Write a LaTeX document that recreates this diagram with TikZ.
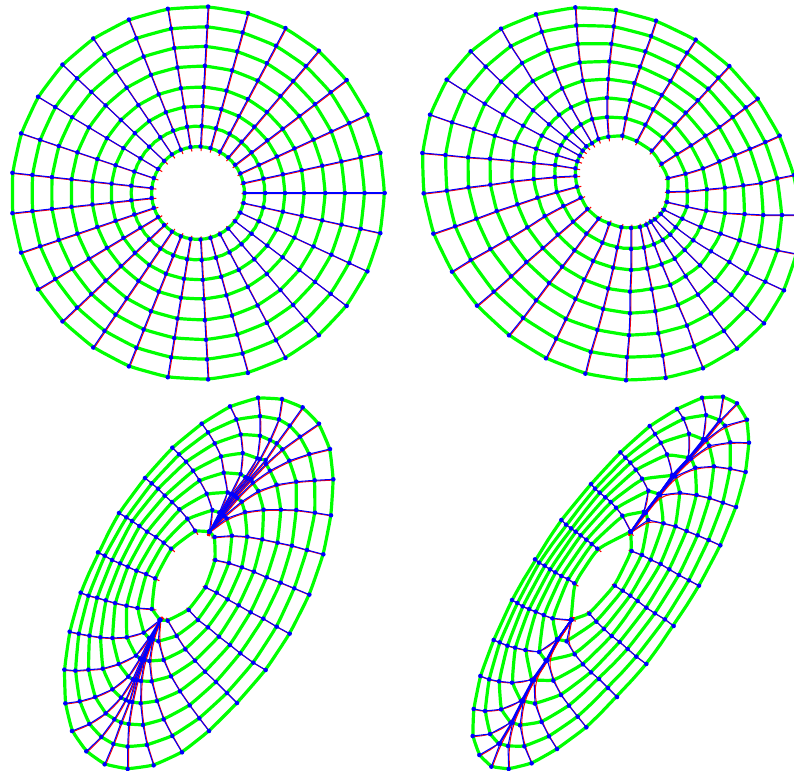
\documentclass[tikz,border=0pt]{standalone}
\usetikzlibrary{calc}
\definecolor{meshgreen}{RGB}{0,255,0}
\definecolor{meshblue}{RGB}{0,0,255}
\definecolor{meshred}{RGB}{255,0,0}
\tikzset{
  ringline/.style={draw=meshgreen,line width=2.4pt,line join=round},
  spokeline/.style={draw=meshblue,line width=0.8pt,line join=round},
  curveline/.style={draw=meshred,line width=0.8pt,line join=round,transform canvas={shift={(0.6pt,-0.5pt)}}},
  meshdot/.style={fill=meshblue}
}
\newcommand\Sp[5]{\foreach \X/\Y [count=\j] in {#5} {\coordinate (#1-#2-\j) at ({#3+\X/3},{#4+\Y/3});}}
\def\rpairs{1/2,2/3,3/4,4/5,5/6,6/7,7/8,8/9,9/10,10/11,11/12,12/13,13/14,14/15,15/16,16/17,17/18,18/19,19/20,20/21,21/22,22/23,23/24,24/25,25/26,26/27,27/28,28/29,29/1}
\newcommand\DrawMesh[1]{%
  \foreach \j in {1,...,8}{%
    \draw[ringline] ($(#1-29-\j)!.5!(#1-1-\j)$) foreach \k/\n in \rpairs { .. controls (#1-\k-\j) and (#1-\k-\j) .. ($(#1-\k-\j)!.5!(#1-\n-\j)$) } -- cycle;
  }
  \foreach \k in {1,...,29}{%
    \draw[curveline] ($(#1-\k-1)!-3pt!(#1-\k-2)$) -- ($(#1-\k-1)!.5!(#1-\k-2)$)
      foreach \p/\a/\b in {1/2/3,2/3/4,3/4/5,4/5/6,5/6/7,6/7/8} { .. controls ($(#1-\k-\p)!.833!(#1-\k-\a)$) and ($(#1-\k-\b)!.833!(#1-\k-\a)$) .. ($(#1-\k-\a)!.5!(#1-\k-\b)$) } -- (#1-\k-8);
  }
  \foreach \k in {1,...,29}{%
    \draw[spokeline] (#1-\k-1) foreach \j in {2,...,8} { -- (#1-\k-\j) };
  }
  \foreach \k in {1,...,29}{\foreach \j in {1,...,8}{\fill[meshdot] (#1-\k-\j) circle[radius=1.7pt];}}
}
\begin{document}
\begin{tikzpicture}[x=0.75pt,y=-0.75pt]
\useasboundingbox (0,0) rectangle (794,771);
\clip (0,0) rectangle (794,771);
% ---------- panel A
\foreach \k in {1,...,29}{\foreach \r [count=\j] in {46.7,67.3,87,106.3,127.3,147,166.7,186.7}{%
  \coordinate (A-\k-\j) at ({198+\r*cos(12.4138*(\k-1))},{193+\r*sin(12.4138*(\k-1))});}}
% ---------- panel B
\Sp{B}{1}{604}{0}{192/534,245/521,297/505,346/484,392/465,438/446,484/426,527/407}
\Sp{B}{2}{604}{0}{192/575,251/574,309/568,363/563,418/556,471/549,520/535,570/525}
\Sp{B}{3}{604}{190}{189/36,249/50,307/62,363/69,422/72,478/75,534/75,590/75}
\Sp{B}{4}{604}{190}{180/59,235/86,290/111,350/131,406/151,465/168,521/181,578/192}
\Sp{B}{5}{604}{190}{170/72,215/112,268/151,321/184,376/216,428/249,484/275,540/301}
\Sp{B}{6}{604}{190}{153/88,199/134,242/180,288/226,333/272,382/314,428/356,480/400}
\Sp{B}{7}{604}{190}{140/95,176/150,212/206,245/259,282/314,321/370,360/423,399/476}
\Sp{B}{8}{604}{190}{127/104,150/163,173/223,199/285,222/345,249/407,270/469,297/535}
\Sp{B}{9}{604}{190}{108/111,120/173,130/236,143/298,154/364,163/430,176/497,185/564}
\Sp{B}{10}{604}{190}{81/114,81/177,81/240,78/305,78/370,75/436,69/502,66/571}
\Sp{B}{11}{604}{190}{52/112,39/173,27/233,12/296,-3/357,-20/420,-40/486,-56/551}
\Sp{B}{12}{415}{190}{582/101,562/158,534/213,507/269,481/327,452/387,423/446,393/505}
\Sp{B}{13}{415}{190}{550/86,514/131,478/181,441/230,402/279,363/331,324/384,282/436}
\Sp{B}{14}{415}{190}{517/57,474/95,428/134,383/174,334/216,288/259,236/305,186/347}
\Sp{B}{15}{415}{190}{497/23,445/48,389/78,337/112,281/145,226/177,167/210,111/245}
\Sp{B}{16}{415}{190}{485/-10,425/6,367/23,307/43,245/63,184/86,120/109,55/131}
\Sp{B}{17}{415}{0}{481/528,419/531,356/537,291/544,226/554,160/562,95/572,26/580}
\Sp{B}{18}{415}{0}{481/505,420/495,356/489,291/482,225/476,159/472,91/465,22/459}
\Sp{B}{19}{415}{0}{487/484,425/465,363/446,300/426,239/407,177/387,111/367,45/344}
\Sp{B}{20}{415}{0}{494/467,438/436,380/407,324/377,265/344,209/311,150/274,95/239}
\Sp{B}{21}{415}{0}{503/452,452/413,402/373,354/331,304/288,258/245,212/200,167/154}
\Sp{B}{22}{415}{0}{514/439,471/394,432/344,393/296,353/243,321/189,287/138,258/86}
\Sp{B}{23}{415}{0}{531/430,497/373,468/322,441/265,419/210,399/151,380/95,363/43}
\Sp{B}{24}{415}{0}{550/417,531/357,517/301,503/242,494/187,488/131,484/76,481/22}
\Sp{B}{25}{604}{0}{13/410,9/351,9/293,12/237,16/184,22/131,29/79,36/30}
\Sp{B}{26}{604}{0}{55/407,65/354,78/301,91/249,108/200,124/154,141/108,156/62}
\Sp{B}{27}{604}{0}{98/423,124/374,147/328,173/285,199/243,222/200,249/158,275/119}
\Sp{B}{28}{604}{0}{143/452,176/413,212/374,245/338,281/301,313/266,343/233,376/198}
\Sp{B}{29}{604}{0}{173/491,218/462,261/436,304/407,346/381,386/351,425/322,461/296}
% ---------- panel C
\Sp{C}{1}{170}{390}{118/425,153/368,186/312,226/262,262/205,270/137,270/78,264/23}
\Sp{C}{2}{170}{390}{118/425,155/370,190/315,232/265,270/207,300/150,327/88,336/27}
\Sp{C}{3}{170}{390}{118/425,157/371,193/316,238/266,287/210,320/160,359/107,398/52}
\Sp{C}{4}{170}{390}{118/425,158/373,197/319,244/268,288/222,337/178,390/140,447/101}
\Sp{C}{5}{170}{390}{118/425,160/375,202/324,248/278,300/242,358/212,418/192,480/177}
\Sp{C}{6}{170}{390}{118/425,163/378,215/335,265/303,320/284,379/275,434/271,490/268}
\Sp{C}{7}{170}{390}{118/425,170/385,225/366,281/359,333/359,379/360,435/368,483/376}
\Sp{C}{8}{170}{390}{134/441,186/437,232/440,277/448,323/458,366/467,411/480,460/493}
\Sp{C}{9}{60}{420}{466/420,507/429,546/442,582/455,620/472,662/488,703/505,748/524}
\Sp{C}{10}{60}{420}{437/502,470/518,503/538,536/556,572/577,610/596,650/620,689/641}
\Sp{C}{11}{60}{420}{386/570,414/600,444/622,477/650,510/675,541/700,580/728,617/750}
\Sp{C}{12}{60}{420}{323/602,350/648,376/688,405/722,435/755,468/786,501/819,531/849}
\Sp{C}{13}{60}{600}{300/60,295/124,311/180,333/229,360/274,389/316,418/355,447/393}
\Sp{C}{14}{60}{600}{300/60,279/118,268/183,275/244,291/303,311/358,337/408,366/457}
\Sp{C}{15}{60}{600}{300/60,277/118,254/180,243/243,242/310,249/375,261/435,281/496}
\Sp{C}{16}{60}{600}{300/60,275/118,251/180,232/240,217/306,206/372,203/440,203/507}
\Sp{C}{17}{60}{600}{300/60,274/118,249/180,227/240,208/305,183/368,160/432,134/493}
\Sp{C}{18}{60}{600}{300/60,273/118,247/180,223/240,197/300,163/358,124/411,79/454}
\Sp{C}{19}{60}{600}{300/60,271/118,244/179,218/238,183/293,137/340,88/372,36/393}
\Sp{C}{20}{60}{600}{300/60,269/116,240/175,205/230,157/268,105/291,59/304,16/310}
\Sp{C}{21}{60}{600}{300/60,267/114,228/167,176/192,128/206,85/209,46/212,13/209}
\Sp{C}{22}{60}{600}{300/60,251/98,200/112,157/114,121/112,88/107,56/101,29/95}
\Sp{C}{23}{60}{420}{275/567,232/564,199/557,165/549,137/541,111/533,85/527,62/518}
\Sp{C}{24}{60}{420}{285/475,258/462,229/452,203/440,180/430,156/420,134/407,114/397}
\Sp{C}{25}{60}{420}{333/386,311/368,288/351,261/335,238/318,216/303,199/292,177/279}
\Sp{C}{26}{60}{420}{405/332,382/296,358/268,336/246,314/227,294/206,275/190,255/174}
\Sp{C}{27}{170}{390}{118/425,127/360,110/311,88/271,69/242,48/215,27/193,7/173}
\Sp{C}{28}{170}{390}{118/425,148/368,173/307,161/248,153/199,134/160,114/127,95/101}
\Sp{C}{29}{170}{390}{118/425,151/366,182/312,212/252,218/189,212/133,199/88,180/49}
% ---------- panel D
\Sp{D}{1}{610}{390}{62/425,105/367,146/312,186/256,235/203,279/148,288/75,276/23}
\Sp{D}{2}{610}{390}{62/425,105/367,147/312,188/256,237/203,282/148,328/90,339/20}
\Sp{D}{3}{610}{390}{62/425,105/367,147/312,188/256,238/203,285/148,330/92,381/40}
\Sp{D}{4}{610}{390}{62/425,106/368,148/313,190/256,240/204,288/150,345/107,411/89}
\Sp{D}{5}{610}{390}{62/425,106/368,148/313,192/257,243/206,298/167,361/157,417/158}
\Sp{D}{6}{610}{390}{62/425,106/369,149/314,196/259,256/233,312/229,361/236,407/246}
\Sp{D}{7}{610}{390}{62/425,107/369,150/315,210/308,260/315,299/324,339/338,378/351}
\Sp{D}{8}{610}{390}{62/425,115/390,161/400,197/409,230/423,263/436,296/450,331/466}
\Sp{D}{9}{465}{440}{500/333,531/345,557/359,587/372,613/388,642/405,672/421,702/437}
\Sp{D}{10}{465}{440}{449/437,473/452,496/467,518/483,544/503,570/520,600/538,626/558}
\Sp{D}{11}{465}{440}{373/521,394/545,417/567,440/588,464/606,488/627,514/650,544/672}
\Sp{D}{12}{465}{440}{318/540,305/604,329/643,354/673,378/697,402/717,429/744,456/771}
\Sp{D}{13}{465}{600}{318/60,279/118,247/181,265/242,288/285,312/317,338/350,364/382}
\Sp{D}{14}{465}{600}{318/60,279/118,246/181,207/240,210/311,230/366,252/409,276/447}
\Sp{D}{15}{465}{600}{318/60,278/118,245/181,205/240,175/303,165/376,178/439,200/490}
\Sp{D}{16}{465}{600}{318/60,278/118,245/181,205/240,173/303,143/368,129/438,131/507}
\Sp{D}{17}{465}{600}{318/60,278/118,245/181,204/240,172/303,141/368,105/431,79/500}
\Sp{D}{18}{465}{600}{318/60,277/118,244/181,204/240,172/303,139/368,101/431,43/465}
\Sp{D}{19}{465}{600}{318/60,277/118,244/181,203/240,170/303,137/368,75/402,23/408}
\Sp{D}{20}{465}{600}{318/60,277/118,243/181,202/240,168/303,108/328,60/333,26/327}
\Sp{D}{21}{465}{600}{318/60,277/118,242/181,200/240,141/248,102/244,72/238,46/228}
\Sp{D}{22}{465}{600}{318/60,276/118,222/156,181/150,150/143,127/137,104/127,86/120}
\Sp{D}{23}{465}{440}{318/540,262/535,236/525,212/515,192/507,173/499,157/489,141/480}
\Sp{D}{24}{465}{440}{328/430,309/417,289/408,271/397,255/388,239/377,222/368,210/358}
\Sp{D}{25}{465}{440}{397/326,380/312,364/299,347/286,332/275,318/265,303/254,289/240}
\Sp{D}{26}{465}{440}{497/275,472/227,453/203,437/186,421/172,404/158,390/146,378/132}
\Sp{D}{27}{465}{440}{497/275,537/215,550/152,531/116,512/89,496/68,481/53,466/37}
\Sp{D}{28}{610}{390}{62/425,104/367,146/312,188/256,171/193,152/158,135/132,119/108}
\Sp{D}{29}{610}{390}{62/425,105/367,147/312,187/256,236/203,237/131,220/86,201/57}
\DrawMesh{A}
\DrawMesh{B}
\DrawMesh{C}
\DrawMesh{D}
\end{tikzpicture}
\end{document}
